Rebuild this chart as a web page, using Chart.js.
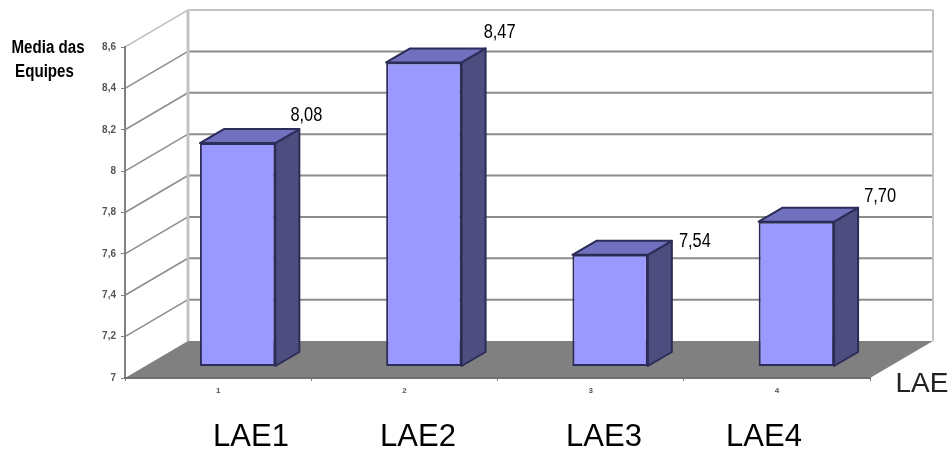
<!DOCTYPE html>
<html>
<head>
<meta charset="utf-8">
<title>Media das Equipes</title>
<script src="https://cdn.jsdelivr.net/npm/chart.js@4/dist/chart.umd.min.js"></script>
<style>
  html, body { margin: 0; padding: 0; background: #fff; }
  canvas { display: block; }
</style>
</head>
<body>
<canvas id="grafico" width="950" height="452"></canvas>
<script>
// dados do gráfico
const categorias = ['1', '2', '3', '4'];
const medias = [8.08, 8.47, 7.54, 7.70];
const nomesLae = ['LAE1', 'LAE2', 'LAE3', 'LAE4'];
const tituloEixoY = ['Media das', 'Equipes'];
const tituloEixoX = 'LAE';

// profundidade do "3D"
const paredeDx = 63, paredeDy = -37;   // parede do fundo
const barraDx = 19.5, barraDy = -11.5; // frente das barras, acima do chão
const ladoDx = 24, ladoDy = -14;       // lateral das barras

// posição dos rótulos em relação ao canto superior direito de cada barra
const rotuloDesloc = [[7, -14], [14, -16], [23, 1], [22, -11]];
const nomesX = [251, 418, 604, 764];

function virgula(v) {
  return String(v).replace('.', ',');
}

function poligono(ctx, pontos, cor, borda) {
  ctx.beginPath();
  pontos.forEach(function(p, i) {
    if (i === 0) ctx.moveTo(p[0], p[1]); else ctx.lineTo(p[0], p[1]);
  });
  ctx.closePath();
  ctx.fillStyle = cor;
  ctx.fill();
  if (borda) {
    ctx.strokeStyle = borda;
    ctx.lineWidth = 2;
    ctx.lineJoin = 'round';
    ctx.stroke();
  }
}

function linha(ctx, x1, y1, x2, y2, cor, largura) {
  ctx.beginPath();
  ctx.moveTo(x1, y1);
  ctx.lineTo(x2, y2);
  ctx.strokeStyle = cor;
  ctx.lineWidth = largura;
  ctx.stroke();
}

// texto apertado na horizontal, não há fonte estreita instalada
function textoEstreito(ctx, texto, x, y, escala) {
  ctx.save();
  ctx.translate(x, y);
  ctx.scale(escala, 1);
  ctx.fillText(texto, 0, 0);
  ctx.restore();
}

const cenario3d = {
  id: 'cenario3d',
  // parede, chão e linhas de grade ficam atrás de tudo
  beforeDraw(chart) {
    const ctx = chart.ctx, a = chart.chartArea, y = chart.scales.y;
    const base = y.getPixelForValue(y.min);
    const topoY = y.getPixelForValue(y.max);
    ctx.save();
    poligono(ctx, [
      [a.left, base],
      [a.left + paredeDx, base + paredeDy],
      [a.right + paredeDx, base + paredeDy],
      [a.right, base]
    ], '#808080');
    y.ticks.forEach(function(t) {
      const py = y.getPixelForValue(t.value);
      const cor = t.value === y.max ? '#c4c4c4' : '#8c8c8c';
      if (t.value !== y.min) {
        linha(ctx, a.left, py, a.left + paredeDx, py + paredeDy, cor, 1.5);
        linha(ctx, a.left + paredeDx, py + paredeDy, a.right + paredeDx, py + paredeDy, cor, 2);
      }
    });
    linha(ctx, a.left + paredeDx, topoY + paredeDy, a.left + paredeDx, base + paredeDy, '#c4c4c4', 3);
    linha(ctx, a.right + paredeDx, topoY + paredeDy, a.right + paredeDx, base + paredeDy, '#c4c4c4', 2);
    ctx.restore();
  },
  // lateral e topo das barras, depois a frente é desenhada deslocada sobre o chão
  beforeDatasetsDraw(chart) {
    const ctx = chart.ctx;
    ctx.save();
    ctx.translate(barraDx, barraDy);
    chart.getDatasetMeta(0).data.forEach(function(b) {
      const esq = b.x - b.width / 2, dir = b.x + b.width / 2;
      poligono(ctx, [
        [dir, b.y], [dir + ladoDx, b.y + ladoDy],
        [dir + ladoDx, b.base + ladoDy], [dir, b.base]
      ], '#4d4d80', '#2c2c58');
      poligono(ctx, [
        [esq, b.y], [esq + ladoDx, b.y + ladoDy],
        [dir + ladoDx, b.y + ladoDy], [dir, b.y]
      ], '#7070bf', '#2c2c58');
    });
  },
  afterDatasetsDraw(chart) {
    const ctx = chart.ctx;
    ctx.restore();
    ctx.save();
    ctx.fillStyle = '#000';
    ctx.textAlign = 'center';
    ctx.textBaseline = 'middle';

    // valores em cima das barras
    ctx.font = '20px "Liberation Sans", sans-serif';
    chart.getDatasetMeta(0).data.forEach(function(b, i) {
      const x = b.x + b.width / 2 + barraDx + ladoDx + rotuloDesloc[i][0];
      const y = b.y + barraDy + ladoDy + rotuloDesloc[i][1];
      textoEstreito(ctx, medias[i].toFixed(2).replace('.', ','), x, y, 0.82);
    });

    // título do eixo y
    ctx.font = 'bold 18px "Liberation Sans", sans-serif';
    textoEstreito(ctx, tituloEixoY[0], 48, 48, 0.84);
    textoEstreito(ctx, tituloEixoY[1], 44.5, 72, 0.84);

    // nomes abaixo do gráfico
    ctx.font = '31px "Liberation Sans", Arial, sans-serif';
    nomesLae.forEach(function(n, i) {
      ctx.fillText(n, nomesX[i], 437);
    });
    ctx.font = '28px "Liberation Sans", Arial, sans-serif';
    ctx.fillStyle = '#222';
    ctx.fillText(tituloEixoX, 922, 384);
    ctx.restore();
  }
};

new Chart(document.getElementById('grafico').getContext('2d'), {
  type: 'bar',
  data: {
    labels: categorias,
    datasets: [{
      data: medias,
      base: 7,
      backgroundColor: '#9999ff',
      borderColor: '#2c2c58',
      borderWidth: 2,
      borderSkipped: false,
      categoryPercentage: 1,
      barPercentage: 0.405
    }]
  },
  options: {
    responsive: false,
    animation: false,
    layout: { padding: { top: 47, right: 80 } },
    plugins: { legend: { display: false }, tooltip: { enabled: false } },
    scales: {
      y: {
        min: 7,
        max: 8.6,
        afterFit(s) { s.width = 125; },
        ticks: {
          stepSize: 0.2,
          padding: 5,
          color: '#555',
          font: { family: '"Liberation Sans", sans-serif', size: 10, weight: 'bold' },
          callback: function(v) { return virgula(Math.round(v * 10) / 10); }
        },
        grid: { drawOnChartArea: false, tickLength: 4, color: '#808080' },
        border: { color: '#808080', width: 2 }
      },
      x: {
        afterFit(s) { s.height = 74; },
        ticks: {
          padding: 5,
          color: '#555',
          font: { family: '"Liberation Sans", sans-serif', size: 8, weight: 'bold' }
        },
        grid: { drawOnChartArea: false, tickLength: 3, color: '#808080' },
        border: { color: '#707070', width: 2 }
      }
    }
  },
  plugins: [cenario3d]
});
</script>
</body>
</html>
